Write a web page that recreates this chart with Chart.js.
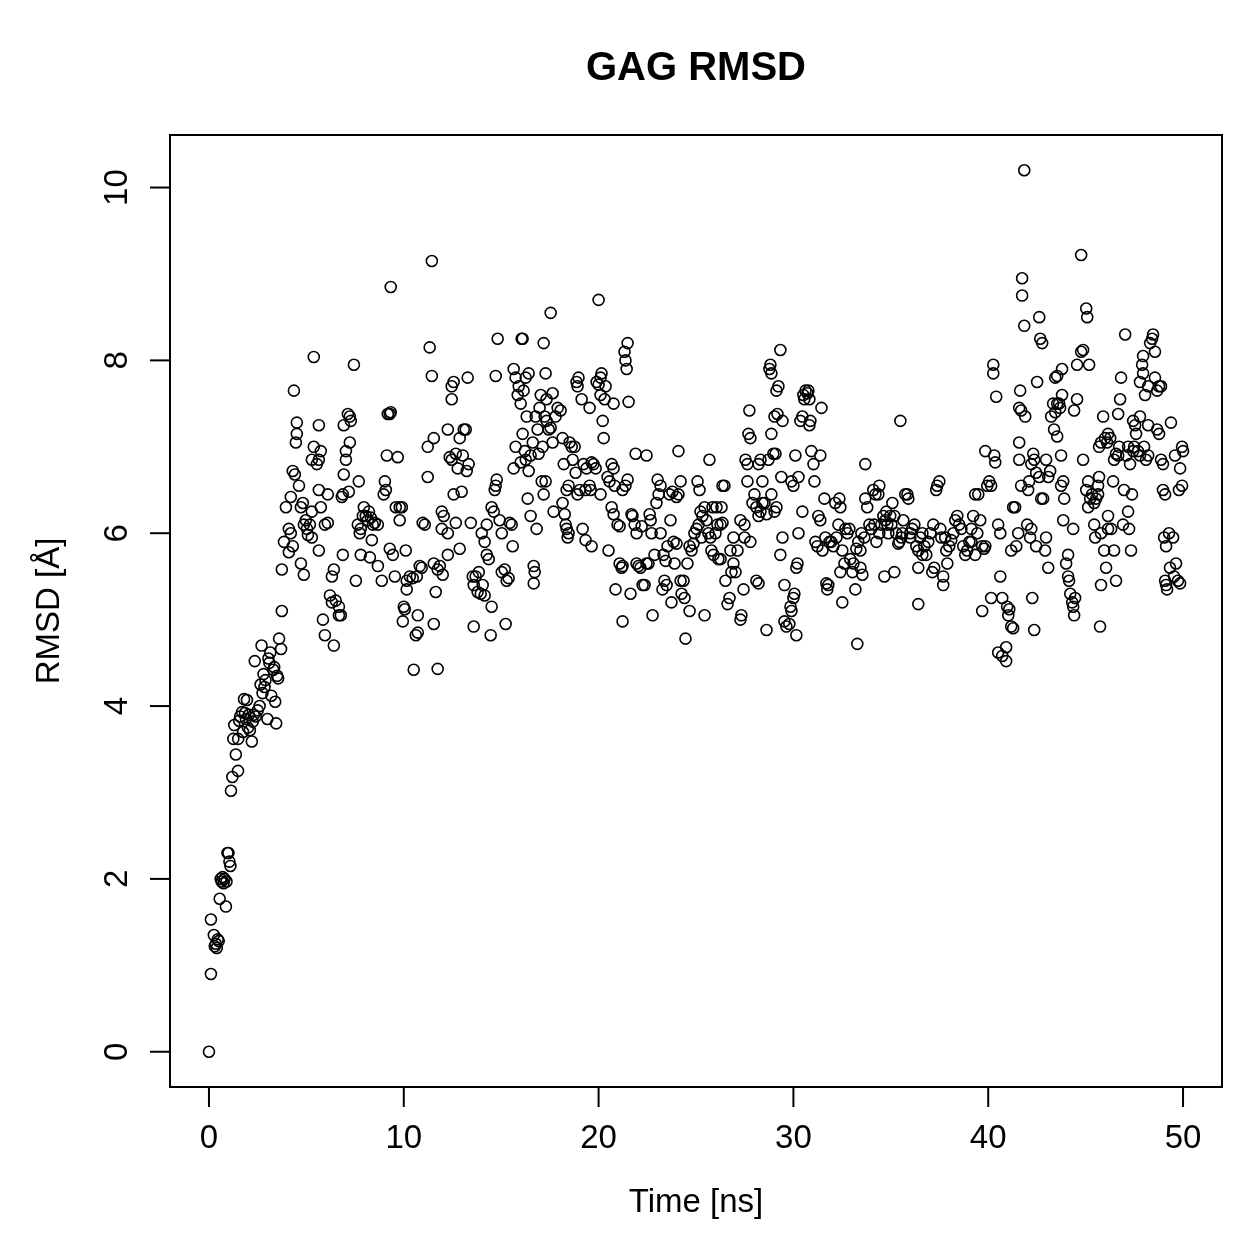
<!DOCTYPE html>
<html lang="en">
<head>
<meta charset="UTF-8">
<title>GAG RMSD</title>
<script src="https://cdn.jsdelivr.net/npm/chart.js"></script>
<style>
  html, body { margin: 0; padding: 0; background: #fff; }
  #wrap { width: 1259px; height: 1259px; }
</style>
</head>
<body>
<div id="wrap"><canvas id="rmsdChart" width="1259" height="1259"></canvas></div>
<script>
// tick values of the two axes
const xTicks = [0, 10, 20, 30, 40, 50];
const yTicks = [0, 2, 4, 6, 8, 10];

// [time (ns), RMSD (Å)], split by time window
const rise = [
  [0,0],[0.1,0.9],[0.1,1.53],[0.25,1.35],[0.3,1.22],[0.35,1.25],[0.4,1.2],[0.45,1.3],[0.5,1.28],[0.55,1.77],
  [0.6,2.0],[0.65,1.97],[0.7,2.02],[0.75,1.95],[0.8,2.0],[0.87,1.68],[0.9,1.97],[0.95,2.3],[1.0,2.3],[1.05,2.2],
  [1.1,2.15],[1.13,3.02],[1.2,3.18],[1.25,3.62],[1.3,3.78],[1.49,3.25],[1.38,3.44],[1.5,3.62],[1.55,3.83],[1.6,3.88],
  [1.7,3.93],[1.75,3.7],[1.8,4.08],[1.85,3.92],[1.9,3.85],[1.95,4.07],[2.0,3.75],[2.05,3.9],[2.1,3.72],[2.2,3.59],
  [2.25,3.82],[2.3,3.9],[2.35,4.52],[2.4,3.88],[2.5,3.95],[2.6,4.0],[2.65,4.25],[2.7,4.7],[2.75,4.15],[2.8,4.37],
  [2.85,4.22],[2.9,4.3],[3.0,3.85],[3.05,4.55],[3.1,4.5],[3.15,4.62],[3.2,4.12],[3.3,4.42],[3.35,4.45],[3.4,4.05],
  [3.45,3.8],[3.5,4.35],[3.55,4.32],[3.6,4.78],[3.7,4.66]
];

const window4to10 = [
  [3.74,5.1],[3.74,5.58],[3.85,5.9],[3.95,6.3],[4.1,6.05],[4.2,6.0],[4.1,5.78],[4.3,5.85],[4.2,6.42],[4.3,6.72],
  [4.36,7.65],[4.41,6.68],[4.46,7.05],[4.51,7.15],[4.51,7.28],[4.62,6.55],[4.82,6.35],[4.72,6.3],[4.72,5.65],[4.87,5.52],
  [4.87,6.1],[4.97,6.15],[5.03,6.05],[5.08,5.98],[5.18,6.1],[5.28,5.95],[5.28,6.25],[5.28,6.85],[5.38,7.0],[5.38,8.04],
  [5.54,6.8],[5.64,6.85],[5.64,7.25],[5.64,6.5],[5.64,5.8],[5.74,6.95],[5.74,6.3],[5.85,5.0],[5.95,4.82],[5.95,6.1],
  [6.1,6.12],[6.1,6.45],[6.21,5.28],[6.31,5.2],[6.31,5.5],[6.41,5.58],[6.41,4.7],[6.51,5.22],[6.67,5.05],[6.77,5.05],
  [6.67,5.15],[6.82,6.42],[6.92,6.68],[6.92,7.25],[7.03,6.95],[7.03,6.85],[7.13,7.38],[7.23,7.35],[7.28,7.3],[7.23,7.05],
  [7.44,7.95],[7.18,6.48],[6.87,6.45],[6.87,5.75],[7.54,5.45],[7.64,6.1],[7.74,6.0],[7.79,6.05],[7.9,6.2],[7.95,6.3],
  [7.69,6.6],[8.05,6.2],[8.15,6.15],[8.21,6.25],[8.31,6.18],[8.41,6.1],[7.79,5.75],[8.26,5.72],[8.36,5.92],[8.67,5.62],
  [8.87,5.45],[8.51,6.12],[8.67,6.1],[8.97,6.45],[9.08,6.5],[9.03,6.6],[9.13,6.9],[9.18,7.38],[9.28,7.38],[9.33,7.4],
  [9.33,8.85],[9.28,5.82],[9.44,5.75],[9.54,5.5],[9.59,6.3],[9.69,6.88],[9.79,6.3],[9.9,6.3],[9.79,6.15],[9.95,4.98]
];

const window10to20 = [
  [10.0,5.15],[10.05,5.12],[10.15,5.45],[10.15,5.35],[10.1,5.8],[10.31,5.5],[10.46,5.48],[10.51,4.42],[10.62,4.82],[10.72,4.85],
  [10.72,5.05],[10.67,5.5],[10.82,5.62],[10.92,5.6],[10.97,6.12],[11.08,6.1],[11.23,6.65],[11.23,7.0],[11.33,8.15],[11.44,9.15],
  [11.44,7.82],[11.54,7.1],[11.54,5.65],[11.64,5.32],[11.54,4.95],[11.74,4.43],[11.74,5.58],[11.85,5.62],[11.95,6.05],[11.95,6.25],
  [12.05,6.2],[12.0,5.52],[12.26,5.75],[12.26,6.0],[12.26,7.2],[12.36,6.88],[12.46,6.85],[12.46,7.7],[12.56,7.75],[12.46,7.55],
  [12.56,6.45],[12.67,6.12],[12.67,6.92],[12.77,6.75],[12.87,5.82],[12.97,6.48],[12.87,7.1],[13.08,7.2],[13.18,7.2],[13.03,6.9],
  [13.23,6.72],[13.33,6.8],[13.28,7.8],[13.44,6.12],[13.54,5.5],[13.59,5.4],[13.59,4.92],[13.69,5.5],[13.79,5.32],[13.85,5.55],
  [13.95,5.3],[14.05,5.4],[14.15,5.28],[14.0,6.0],[14.26,6.1],[14.15,5.9],[14.26,5.75],[14.36,5.7],[14.46,4.82],[14.51,5.15],
  [14.51,6.3],[14.62,6.25],[14.72,6.55],[14.67,6.5],[14.77,6.62],[14.72,7.82],[14.82,8.25],[14.92,6.15],[15.03,6.0],[15.03,5.55],
  [15.18,5.58],[15.28,5.45],[15.38,5.48],[15.23,4.95],[15.44,6.12],[15.54,6.1],[15.59,5.85],[15.64,6.75],[15.64,7.9],[15.74,7.8],
  [15.74,7.0],[15.85,7.6],[15.9,7.7],[16.0,7.5],[16.0,6.82],[16.05,8.25],[16.1,8.25],[16.15,7.65],[16.1,7.15],[16.21,6.95],
  [16.26,6.85],[16.31,7.35],[16.26,7.8],[16.41,6.72],[16.36,6.4],[16.51,6.2],[16.67,5.62],[16.72,5.55],[16.67,5.42],[16.82,6.05],
  [16.41,7.85],[16.51,6.9],[16.62,7.05],[16.77,7.35],[16.87,7.2],[17.03,7.6],[16.97,7.45],[16.92,6.92],[17.13,7.0],[17.23,7.35],
  [17.33,7.3],[17.28,7.85],[17.18,8.2],[17.33,7.55],[17.08,6.6],[17.18,6.45],[17.28,6.6],[17.44,7.2],[17.54,7.22],[17.54,8.55],
  [17.64,7.62],[17.64,7.05],[17.69,6.25],[17.79,7.35],[17.9,7.45],[18.05,7.42],[18.15,6.35],[18.26,6.22],[18.15,7.1],[18.21,6.8],
  [18.36,6.05],[18.41,5.95],[18.46,6.0],[18.31,6.1],[18.36,6.5],[18.46,6.55],[18.51,7.05],[18.62,7.0],[18.67,6.85],[18.77,7.0],
  [18.82,6.7],[18.87,7.75],[18.97,7.8],[18.92,7.7],[18.92,6.45],[19.03,6.5],[19.13,7.55],[19.18,6.05],[19.33,5.92],[19.23,6.8],
  [19.33,6.5],[19.38,6.75],[19.54,7.45],[19.54,6.55],[19.59,6.5],[19.64,6.82],[19.74,6.8],[19.64,5.85],[19.85,6.75],[19.9,7.75]
];

const window20to30 = [
  [20.0,7.72],[20.0,8.7],[20.1,7.8],[20.1,7.6],[20.15,7.85],[20.1,6.45],[20.21,7.3],[20.26,7.1],[20.31,7.55],[20.36,7.7],
  [20.51,5.8],[20.46,6.65],[20.56,6.6],[20.67,6.8],[20.77,6.75],[20.67,6.3],[20.77,6.22],[20.82,6.55],[20.77,7.5],[20.87,5.35],
  [20.97,6.1],[21.08,6.08],[21.08,5.65],[21.18,5.6],[21.23,5.62],[21.23,4.98],[21.23,6.5],[21.38,6.55],[21.49,6.62],[21.33,8.1],
  [21.49,8.2],[21.38,8.0],[21.44,7.9],[21.54,7.52],[21.64,5.3],[21.69,6.22],[21.74,6.2],[21.85,6.1],[21.95,6.0],[21.95,5.65],
  [22.05,5.62],[21.9,6.92],[22.46,6.9],[22.15,5.6],[22.26,5.4],[22.36,5.4],[22.21,6.08],[22.46,5.65],[22.56,5.65],[22.62,6.22],
  [22.72,6.0],[22.77,5.05],[22.67,6.15],[22.87,5.75],[22.97,6.35],[23.08,6.45],[23.03,6.62],[23.18,6.55],[23.18,6.0],[23.33,5.75],
  [23.28,5.35],[23.38,5.45],[23.49,5.4],[23.44,5.68],[23.54,5.85],[23.64,6.45],[23.79,6.48],[23.69,6.15],[23.74,5.2],[23.9,5.65],
  [23.85,5.9],[24.0,5.88],[24.1,6.45],[24.0,6.42],[24.1,6.95],[24.21,6.6],[24.21,5.45],[24.26,5.3],[24.36,5.45],[24.41,5.25],
  [24.46,4.78],[24.67,5.1],[24.56,5.65],[24.67,5.85],[24.77,5.8],[24.87,5.88],[24.92,6.0],[25.03,6.05],[25.13,6.1],[25.08,6.6],
  [25.18,6.5],[25.28,5.95],[25.23,6.25],[25.33,6.2],[25.44,6.3],[25.44,5.05],[25.54,6.15],[25.64,6.0],[25.74,5.95],[25.69,6.85],
  [25.85,6.3],[25.79,5.8],[25.9,5.75],[26.0,6.0],[26.05,6.3],[26.1,6.1],[26.15,5.7],[26.26,5.7],[26.26,6.1],[26.31,6.3],
  [26.36,6.12],[26.36,6.55],[26.46,6.55],[26.51,5.45],[26.62,5.18],[26.72,5.25],[26.82,5.55],[26.92,5.65],[27.03,5.55],[26.92,5.95],
  [26.77,5.8],[27.28,5.0],[27.33,5.05],[27.44,5.35],[27.13,5.8],[27.28,6.15],[27.49,6.1],[27.54,6.85],[27.64,6.8],[27.69,7.15],
  [27.79,7.1],[27.74,7.42],[27.64,6.6],[27.49,5.95],[27.79,5.9],[27.9,6.35],[28.0,6.45],[28.1,6.3],[28.21,6.2],[28.31,6.25],
  [28.1,5.45],[28.21,5.42],[28.21,6.8],[28.31,6.85],[28.41,6.6],[28.41,6.35],[28.51,6.35],[28.62,6.22],[29.03,6.25],[29.13,6.3],
  [28.72,6.85],[28.62,4.88],[28.77,7.9],[28.82,7.95],[28.87,7.85],[28.87,7.15],[28.87,6.45],[28.97,6.92],[29.08,6.92],[29.03,7.35],
  [29.18,7.38],[29.13,7.65],[29.23,7.7],[29.33,8.12],[29.33,5.75],[29.44,5.95],[29.38,6.65],[29.44,7.3],[29.54,5.4],[29.54,4.98],
  [29.64,4.92],[29.79,4.95],[29.85,5.15],[29.9,5.1],[29.9,6.6]
];

const window30to40 = [
  [30.0,5.25],[30.05,5.3],[30.15,4.82],[30.15,5.6],[30.21,5.65],[30.0,6.55],[30.1,6.9],[30.26,6.65],[30.26,6.0],[30.36,7.3],
  [30.46,7.35],[30.51,7.6],[30.56,7.55],[30.62,7.65],[30.72,7.62],[30.77,7.65],[30.82,7.55],[30.82,7.25],[30.87,7.3],[30.46,6.25],
  [30.92,6.95],[31.03,6.8],[31.08,6.6],[31.13,5.9],[31.23,5.85],[31.38,6.9],[31.44,7.45],[31.28,6.2],[31.38,6.15],[31.49,5.8],
  [31.59,6.4],[31.64,5.95],[31.69,5.42],[31.79,5.4],[31.74,5.35],[31.85,5.9],[31.95,5.9],[32.05,5.85],[32.15,6.35],[32.21,5.95],
  [32.31,6.1],[32.36,6.4],[32.41,6.3],[32.41,5.55],[32.51,5.2],[32.62,5.65],[32.51,5.8],[32.67,6.05],[32.77,6.0],[32.87,6.05],
  [32.92,5.7],[33.03,5.55],[33.18,5.35],[33.28,4.72],[33.08,5.65],[33.23,5.82],[33.33,5.9],[33.44,5.8],[33.44,5.6],[33.54,5.52],
  [33.49,6.0],[33.64,5.95],[33.69,6.4],[33.69,6.8],[33.79,6.3],[33.9,6.1],[34.0,6.05],[34.1,6.5],[34.21,6.45],[34.15,6.1],
  [34.26,5.9],[34.41,6.55],[34.36,6.45],[34.41,6.0],[34.51,6.1],[34.67,5.5],[34.62,6.2],[34.72,6.15],[34.82,6.1],[34.77,6.25],
  [34.87,6.0],[34.97,6.2],[35.03,6.1],[35.18,5.55],[35.08,6.35],[35.18,6.2],[35.28,6.0],[35.38,5.88],[35.49,7.3],[35.44,5.9],
  [35.54,5.95],[35.59,6.0],[35.64,6.15],[35.74,6.45],[35.85,6.45],[35.9,6.4],[36.0,5.95],[36.0,6.0],[36.1,6.05],[36.21,6.1],
  [36.31,5.85],[36.41,5.8],[36.51,5.95],[36.41,5.18],[36.41,5.6],[36.62,5.75],[36.62,6.0],[36.72,5.85],[36.82,5.75],[36.92,5.9],
  [37.03,6.0],[37.13,5.55],[37.23,5.6],[37.18,6.1],[37.33,6.5],[37.38,6.55],[37.49,6.6],[37.54,6.05],[37.59,5.95],[37.69,5.4],
  [37.69,5.5],[37.85,5.8],[37.9,5.65],[37.79,5.95],[38.0,5.85],[38.1,5.92],[38.21,6.0],[38.31,6.15],[38.41,6.2],[38.51,6.1],
  [38.62,6.05],[38.72,5.85],[38.82,5.75],[38.92,5.8],[39.03,5.9],[39.13,6.05],[39.23,6.2],[39.13,5.9],[39.33,5.75],[39.44,6.0],
  [39.49,6.45],[39.59,6.15],[39.69,5.85],[39.79,5.82],[39.33,6.45],[39.69,5.1],[39.85,5.85],[39.85,6.95],[39.95,6.55]
];

const window40to50 = [
  [40.05,6.6],[40.15,6.55],[40.15,5.25],[40.31,6.9],[40.36,6.82],[40.26,7.95],[40.26,7.85],[40.41,7.58],[40.51,6.1],[40.62,6.0],
  [40.72,5.25],[40.51,4.62],[40.72,4.58],[40.92,4.52],[40.92,4.68],[40.62,5.5],[41.03,5.05],[40.97,5.15],[41.08,5.12],[41.18,4.92],
  [41.28,4.9],[41.18,5.8],[41.28,6.3],[41.38,6.3],[41.44,5.85],[41.54,6.0],[41.59,6.85],[41.59,7.05],[41.69,6.55],[41.59,7.45],
  [41.9,7.35],[41.74,8.95],[41.74,8.75],[41.85,8.4],[41.85,10.2],[41.64,7.65],[41.69,7.42],[42.0,6.1],[42.15,5.95],[42.05,6.5],
  [42.1,6.6],[42.21,6.8],[42.31,6.92],[42.36,6.85],[42.21,6.05],[42.36,4.88],[42.26,5.25],[42.46,5.85],[42.46,6.7],[42.51,7.75],
  [42.62,8.5],[42.67,8.25],[42.77,8.2],[42.62,6.65],[42.72,6.4],[42.82,6.4],[42.92,5.8],[42.97,5.95],[43.08,5.6],[42.97,6.85],
  [43.08,6.65],[43.18,6.72],[43.23,7.35],[43.33,7.5],[43.44,7.4],[43.38,7.2],[43.44,7.8],[43.54,7.82],[43.54,7.5],[43.64,7.5],
  [43.54,7.12],[43.69,7.45],[43.79,7.6],[43.79,7.9],[43.74,6.9],[43.74,6.55],[43.85,6.6],[43.9,6.4],[43.85,6.15],[44.0,5.65],
  [44.1,5.75],[44.1,5.5],[44.15,5.45],[44.21,5.3],[44.31,5.2],[44.36,5.15],[44.41,5.05],[44.46,5.25],[44.36,6.05],[44.41,7.42],
  [44.56,7.55],[44.56,7.95],[44.77,8.1],[44.87,8.12],[44.77,9.22],[44.87,6.85],[45.03,6.5],[45.13,6.6],[45.03,8.6],[45.08,8.5],
  [45.18,7.95],[45.13,6.3],[45.23,6.4],[45.33,6.45],[45.44,6.35],[45.54,6.4],[45.64,6.45],[45.64,6.55],[45.69,6.65],[45.44,6.1],
  [45.49,5.95],[45.95,5.8],[46.05,5.6],[45.79,5.4],[45.74,4.92],[45.79,6.0],[45.69,7.0],[45.79,7.05],[45.9,7.35],[46.0,7.1],
  [46.1,7.05],[46.15,7.15],[46.26,7.1],[46.15,6.05],[46.31,6.05],[46.15,6.2],[46.41,6.6],[46.46,5.8],[46.56,5.45],[46.46,6.85],
  [46.56,6.92],[46.67,6.9],[46.72,7.0],[46.77,7.55],[46.82,7.8],[46.67,7.38],[47.03,8.3],[46.97,6.5],[46.92,6.1],[47.18,6.25],
  [47.08,6.9],[47.18,7.0],[47.28,6.8],[47.33,5.8],[47.23,6.05],[47.38,6.45],[47.44,6.95],[47.49,7.0],[47.44,7.3],[47.54,7.25],
  [47.59,7.15],[47.69,6.95],[47.79,6.9],[47.79,7.35],[47.79,7.75],[47.9,7.95],[47.95,8.05],[47.95,7.85],[48.05,7.6],[48.21,7.25],
  [48.0,7.0],[48.1,6.85],[48.21,6.9],[48.21,7.7],[48.31,8.2],[48.41,8.25],[48.46,8.3],[48.56,8.1],[48.56,7.8],[48.67,7.65],
  [48.77,7.7],[48.87,7.7],[48.67,7.2],[48.77,7.15],[48.87,6.85],[48.97,6.8],[48.97,6.5],[49.08,6.45],[49.03,5.95],[49.13,5.85],
  [49.08,5.45],[49.13,5.4],[49.18,5.35],[49.28,6.0],[49.33,5.6],[49.38,7.28],[49.49,5.95],[49.54,5.5],[49.64,5.65],[49.74,5.45],
  [49.59,6.9],[49.79,6.5],[49.95,6.55],[49.85,6.75],[49.95,7.0],[49.85,5.42],[50.0,6.95]
];

const allPoints = [].concat(rise, window4to10, window10to20, window20to30, window30to40, window40to50)
  .map(p => ({ x: p[0], y: p[1] }));

const FONT = '"Liberation Sans", Arial, Helvetica, sans-serif';

// R-style box, ticks, labels and titles
const rFrame = {
  id: 'rFrame',
  afterDraw(chart) {
    const { ctx, chartArea: a } = chart;
    const xs = chart.scales.x, ys = chart.scales.y;
    ctx.save();
    ctx.strokeStyle = '#000';
    ctx.fillStyle = '#000';
    ctx.lineWidth = 2;
    ctx.strokeRect(a.left, a.top, a.right - a.left, a.bottom - a.top);

    ctx.font = '33px ' + FONT;
    ctx.textAlign = 'center';
    ctx.textBaseline = 'middle';
    xTicks.forEach(v => {
      const px = xs.getPixelForValue(v);
      ctx.beginPath(); ctx.moveTo(px, a.bottom); ctx.lineTo(px, a.bottom + 20); ctx.stroke();
      ctx.fillText(String(v), px, a.bottom + 52);
    });
    yTicks.forEach(v => {
      const py = ys.getPixelForValue(v);
      ctx.beginPath(); ctx.moveTo(a.left, py); ctx.lineTo(a.left - 20, py); ctx.stroke();
      ctx.save();
      ctx.translate(a.left - 52, py);
      ctx.rotate(-Math.PI / 2);
      ctx.fillText(String(v), 0, 0);
      ctx.restore();
    });

    const cx = (a.left + a.right) / 2, cy = (a.top + a.bottom) / 2;
    ctx.fillText('Time [ns]', cx, a.bottom + 116);
    ctx.save();
    ctx.translate(a.left - 120, cy);
    ctx.rotate(-Math.PI / 2);
    ctx.fillText('RMSD [Å]', 0, 0);
    ctx.restore();

    ctx.font = 'bold 40px ' + FONT;
    ctx.fillText('GAG RMSD', cx, 69);
    ctx.restore();
  }
};

new Chart(document.getElementById('rmsdChart'), {
  type: 'scatter',
  data: {
    datasets: [{
      label: 'RMSD',
      data: allPoints,
      pointStyle: 'circle',
      pointRadius: 5.5,
      pointHoverRadius: 5.5,
      pointBorderWidth: 1.6,
      borderColor: '#000',
      backgroundColor: 'rgba(0,0,0,0)'
    }]
  },
  options: {
    responsive: false,
    animation: false,
    layout: { padding: { left: 170, right: 37, top: 135, bottom: 172 } },
    scales: {
      x: { type: 'linear', display: false, min: -2, max: 52 },
      y: { type: 'linear', display: false, min: -0.408, max: 10.608 }
    },
    plugins: {
      legend: { display: false },
      tooltip: { enabled: false }
    }
  },
  plugins: [rFrame]
});
</script>
</body>
</html>
